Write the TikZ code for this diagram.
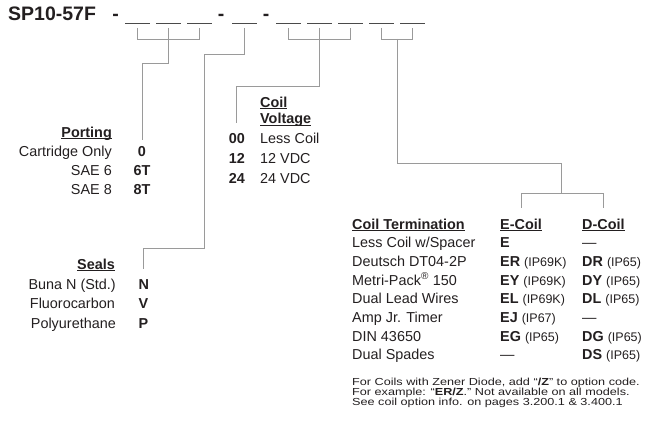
\documentclass[tikz,border=0pt]{standalone}
\usepackage{fontspec}
\setmainfont{Liberation Sans}
\usepackage{graphicx}
\usepackage{xcolor}
\definecolor{colInk}{HTML}{231F20}
\definecolor{colRule}{HTML}{9A9A9A}
\definecolor{colBlank}{HTML}{4A4A4A}
\usetikzlibrary{calc}

% underlined bold heading, rule just under the baseline
\newcommand{\ulhead}[1]{\setbox0\hbox{\bfseries #1}\rlap{\rule[-1.8pt]{\wd0}{0.9pt}}\box0}
% small protection class after a coil code
\newcommand{\ipcls}[1]{{\fontsize{12.5}{14}\selectfont(#1)}}
% stretched small print
\newcommand{\fine}[1]{\scalebox{1.24}[1]{#1}}

\tikzset{
  txt/.style={inner sep=0pt, text=colInk, font=\fontsize{14.4}{17}\selectfont},
  lbl/.style={txt, anchor=base east},
  item/.style={txt, anchor=base west},
  code/.style={txt, anchor=base, font=\fontsize{14.4}{17}\selectfont\bfseries},
  codeL/.style={code, anchor=base west},
  codeR/.style={code, anchor=base east},
  title/.style={txt, font=\fontsize{19.5}{22}\selectfont\bfseries},
  note/.style={txt, anchor=base west, font=\fontsize{10.2}{10}\selectfont},
  conn/.style={draw=colRule, line width=0.9pt},
  blank/.style={draw=colBlank, line width=1.3pt},
}

\begin{document}
\begin{tikzpicture}[x=1pt, y=-1pt]
    \useasboundingbox (0,0) rectangle (645,425);

    % === Model code ===
    \node[title, anchor=base west] (model) at (8,20.5) {SP10-57F};
    \node[title, anchor=base] (dash1) at (115.5,20.5) {-};
    \node[title, anchor=base] (dash2) at (221,20.5) {-};
    \node[title, anchor=base] (dash3) at (266,20.5) {-};

    % Blanks
    \draw[blank] (125,23.5) -- (150,23.5);
    \draw[blank] (156,23.5) -- (181,23.5);
    \draw[blank] (187,23.5) -- (212,23.5);
    \draw[blank] (232,23.5) -- (257,23.5);
    \draw[blank] (276,23.5) -- (301,23.5);
    \draw[blank] (307,23.5) -- (332,23.5);
    \draw[blank] (338,23.5) -- (363,23.5);
    \draw[blank] (369,23.5) -- (394,23.5);
    \draw[blank] (400,23.5) -- (425,23.5);
    \coordinate (s1) at (137.5,28);
    \coordinate (s2) at (168.5,28);
    \coordinate (s3) at (199.5,28);
    \coordinate (s4) at (244.5,28);
    \coordinate (s5) at (288.5,28);
    \coordinate (s6) at (319.5,28);
    \coordinate (s7) at (350.5,28);
    \coordinate (s8) at (381.5,28);
    \coordinate (s9) at (412.5,28);

    % === Porting ===
    \node[lbl] (porthead) at (112,137.5) {\ulhead{Porting}};
    \node[lbl] (port1) at (112,156.5) {Cartridge Only};
    \node[lbl] (port2) at (112,175.5) {SAE 6};
    \node[lbl] (port3) at (112,194.5) {SAE 8};
    \node[code] (pcode1) at (142,156.5) {0};
    \node[code] (pcode2) at (142,175.5) {6T};
    \node[code] (pcode3) at (142,194.5) {8T};

    % === Coil voltage ===
    \node[item] (volthead1) at (260,107.5) {\ulhead{Coil}};
    \node[item] (volthead2) at (260,124) {\ulhead{Voltage}};
    \node[codeR] (vcode1) at (245,143) {00};
    \node[codeR] (vcode2) at (245,163) {12};
    \node[codeR] (vcode3) at (245,183) {24};
    \node[item] (volt1) at (260,143) {Less Coil};
    \node[item] (volt2) at (260,163) {12 VDC};
    \node[item] (volt3) at (260,183) {24 VDC};

    % === Seals ===
    \node[lbl] (sealhead) at (115,269.5) {\ulhead{Seals}};
    \node[lbl] (seal1) at (116,289) {Buna N (Std.)};
    \node[lbl] (seal2) at (115,308.5) {Fluorocarbon};
    \node[lbl] (seal3) at (116,328) {Polyurethane};
    \node[codeL] (scode1) at (138.5,289) {N};
    \node[codeL] (scode2) at (138.5,308.5) {V};
    \node[codeL] (scode3) at (138.5,328) {P};

    % === Coil termination ===
    \node[item] (termhead) at (352,229) {\ulhead{Coil Termination}};
    \node[item] (ehead) at (500,229) {\ulhead{E-Coil}};
    \node[item] (dhead) at (582,229) {\ulhead{D-Coil}};
    \node[item] (term1) at (352,247.7) {Less Coil w/Spacer};
    \node[item] (term2) at (352,266.4) {Deutsch DT04-2P};
    \node[item] (term3) at (352,285.1) {Metri-Pack\textsuperscript{\textregistered} 150};
    \node[item] (term4) at (352,303.8) {Dual Lead Wires};
    \node[item] (term5) at (352,322.5) {Amp Jr. Timer};
    \node[item] (term6) at (352,341.2) {DIN 43650};
    \node[item] (term7) at (352,359.9) {Dual Spades};
    \node[item] (ecode1) at (500,247.7) {\textbf{E}};
    \node[item] (ecode2) at (500,266.4) {\textbf{ER} \ipcls{IP69K}};
    \node[item] (ecode3) at (500,285.1) {\textbf{EY} \ipcls{IP69K}};
    \node[item] (ecode4) at (500,303.8) {\textbf{EL} \ipcls{IP69K}};
    \node[item] (ecode5) at (500,322.5) {\textbf{EJ} \ipcls{IP67}};
    \node[item] (ecode6) at (500,341.2) {\textbf{EG} \ipcls{IP65}};
    \node[item] (ecode7) at (500,359.9) {\textemdash};
    \node[item] (dcode1) at (582,247.7) {\textemdash};
    \node[item] (dcode2) at (582,266.4) {\textbf{DR} \ipcls{IP65}};
    \node[item] (dcode3) at (582,285.1) {\textbf{DY} \ipcls{IP65}};
    \node[item] (dcode4) at (582,303.8) {\textbf{DL} \ipcls{IP65}};
    \node[item] (dcode5) at (582,322.5) {\textemdash};
    \node[item] (dcode6) at (582,341.2) {\textbf{DG} \ipcls{IP65}};
    \node[item] (dcode7) at (582,359.9) {\textbf{DS} \ipcls{IP65}};

    % Small print
    \node[note] (note1) at (352,385.5) {\fine{For Coils with Zener Diode, add \textquotedblleft\textbf{/Z}\textquotedblright\ to option code.}};
    \node[note] (note2) at (352,395) {\fine{For example: \textquotedblleft\textbf{ER/Z}.\textquotedblright\ Not available on all models.}};
    \node[note] (note3) at (352,405) {\fine{See coil option info. on pages 3.200.1 \& 3.400.1}};

    % === Brackets and leaders ===
    \draw[conn] (s1) -- ++(0,11) -| (s3);
    \draw[conn, shorten >=6pt] (s2) -- ++(0,35) -| (pcode1.north);
    \draw[conn, shorten >=10pt] (s4) -- ++(0,26) -| (204,248) -| (scode1.north);
    \draw[conn] (s5) -- ++(0,11) -| (s7);
    \draw[conn, shorten >=9.5pt] (s6) -- ++(0,58) -| (vcode1.north);
    \draw[conn] (s8) -- ++(0,11) -| (s9);
    \coordinate (m4) at ($(s8)!0.5!(s9)+(0,11)$);
    \draw[conn] (m4) |- (561,163) -- (561,193) coordinate (fork);
    \draw[conn, shorten >=10.5pt] (fork) -| (ehead.north);
    \draw[conn, shorten >=10.5pt] (fork) -| (dhead.north);
\end{tikzpicture}
\end{document}
